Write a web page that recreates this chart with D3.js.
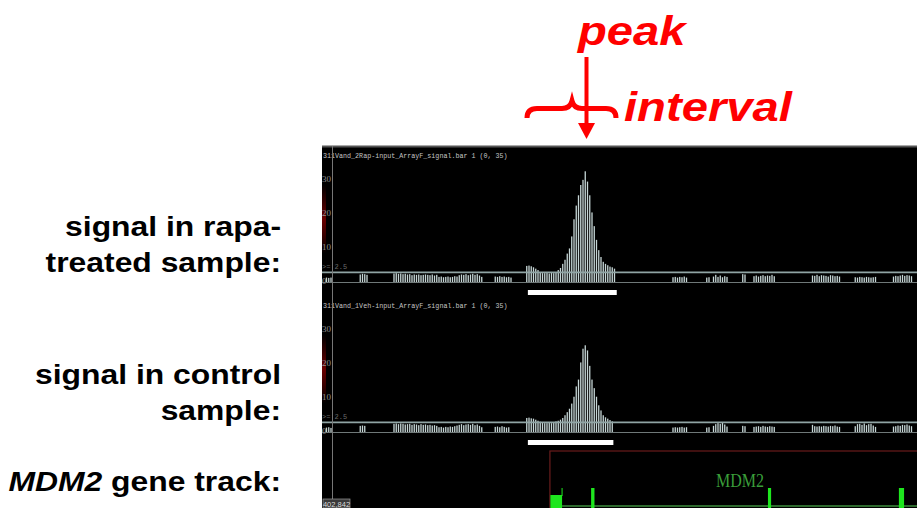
<!DOCTYPE html>
<html>
<head>
<meta charset="utf-8">
<script src="https://cdn.jsdelivr.net/npm/d3@7"></script>
<style>
  html, body { margin: 0; padding: 0; background: #fff; }
  svg { display: block; }
</style>
</head>
<body>
<svg id="chart" width="917" height="508"></svg>
<script>
// genome browser bins (~2.25px each across the black panel)
const binDomain = [0, 264];
const yDomain = [0, 35];
const yTicks = [10, 20, 30];
const threshold = 2.5;

const rapaTitle = '311Vand_2Rap-input_ArrayF_signal.bar 1 (0, 35)';
const vehTitle = '311Vand_1Veh-input_ArrayF_signal.bar 1 (0, 35)';

// peak region, first bin 91
const rapaPeakStart = 91;
const rapaPeak = [4.4, 4.5, 4.3, 4.0, 3.6, 3.2, 2.6, 2.3, 2.3, 2.4, 2.2, 2.4, 2.3, 2.6, 3.2, 3.8,
  5.0, 6.2, 8.0, 9.5, 13, 18, 22, 25, 28, 29.5, 32, 29, 25, 20, 16, 12, 9, 7, 5.6, 5.0, 4.6, 4.2, 4.0, 3.6];
const vehPeakStart = 91;
const vehPeak = [3.8, 3.9, 3.7, 3.6, 3.3, 3.0, 2.7, 2.4, 2.3, 2.3, 2.4, 2.3, 2.5, 2.8, 3.0, 3.3,
  3.8, 4.6, 5.5, 6.5, 8.0, 10, 13, 15, 20, 24, 25, 23.5, 19, 15, 12.5, 10, 7.5, 6, 4.6, 4.0, 3.6, 3.2, 2.8];

// low background clusters: [first bin, values]
const rapaBackground = [
  [2, [1.0, 0.9, 1.0]],
  [17, [1.9, 2.1, 2.0, 1.8]],
  [32, [2.2, 2.3, 2.1, 2.2, 2.0, 2.1, 1.9, 2.0, 1.7, 1.9, 1.8, 1.9, 1.7, 1.8, 1.9, 1.8, 1.7, 1.9, 1.6, 1.8,
        1.2, 1.3, 1.1, 1.2, 1.3, 1.1, 1.2, 1.4, 1.3, 1.7, 1.9, 1.8, 2.0, 1.7, 1.9, 2.1, 1.8, 2.0, 1.6, 1.2]],
  [77, [1.3, 1.2, 1.4, 1.2, 1.3, 1.1, 1.2, 1.0]],
  [156, [1.1, 1.2, 1.0, 1.2, 1.1, 1.3, 1.0]],
  [171, [1.0, 1.1, 0, 1.3, 1.8, 1.2, 1.6, 1.1, 1.4, 1.2]],
  [187, [2.0, 1.9]],
  [192, [1.4, 1.6, 1.3, 1.5, 1.7, 1.4, 1.6, 1.5, 1.8, 1.4]],
  [218, [1.6, 1.5, 1.8, 1.4, 1.7, 1.6, 1.5, 1.3, 1.7, 1.6, 1.4, 1.5, 1.3]],
  [237, [1.1, 1.0, 1.2, 1.1, 1.0, 1.2, 1.1, 1.0, 1.1, 1.2]],
  [254, [1.3, 1.5, 1.4, 1.6, 1.8, 1.5, 1.7, 1.6, 1.4]]
];
const vehBackground = [
  [2, [1.0, 1.1, 0.9]],
  [17, [1.5, 1.6, 1.5]],
  [32, [2.1, 2.2, 2.0, 2.2, 2.1, 1.9, 2.0, 2.1, 1.8, 2.0, 1.9, 1.7, 2.0, 1.8, 1.9, 1.7, 1.8, 1.6, 1.7, 1.5,
        1.1, 1.2, 1.0, 1.2, 1.1, 1.3, 1.2, 1.4, 1.6, 1.8, 2.0, 1.7, 1.9, 2.0, 1.8, 2.1, 1.7, 1.9, 1.5, 1.1]],
  [77, [1.2, 1.3, 1.1, 1.4, 1.2, 1.0, 1.1]],
  [156, [1.0, 1.1, 1.0, 1.1, 1.2, 1.0, 1.1]],
  [171, [1.0, 1.1, 0, 1.5, 2.0, 2.3, 2.1, 2.4, 1.9, 1.3]],
  [187, [1.5, 1.4]],
  [192, [1.2, 1.3, 1.4, 1.2, 1.5, 1.3, 1.2, 1.4, 1.3, 1.2]],
  [218, [1.8, 1.4, 1.3, 1.4, 1.3, 1.5, 1.4, 1.3, 1.5, 1.4, 1.6, 1.3, 1.2]],
  [237, [1.4, 2.0, 2.1, 1.8, 2.2, 1.7, 2.0, 2.1, 1.6, 1.2]],
  [254, [1.3, 1.4, 1.6, 1.5, 1.8, 1.7, 1.9, 1.6, 1.4]]
];

// called peak intervals (bin coords)
const rapaInterval = [91.5, 131];
const vehInterval = [91.5, 129.5];

// MDM2 gene model (bin coords)
const geneStart = 101.3;
const utrExon = [101.5, 106.7];
const exonStarts = [119.6, 198.2, 256.4];
const exonEnds = [121.1, 199.6, 258.7];
const geneLabel = 'MDM2';
const coordLabel = '402,842';

const svg = d3.select('#chart');
const stretch = 1.18; // slide text is stretched horizontally

// ---------- black browser panel ----------
const panel = { left: 322, top: 146, right: 917, bottom: 508 };
svg.append('rect')
  .attr('x', panel.left).attr('y', panel.top)
  .attr('width', panel.right - panel.left).attr('height', panel.bottom - panel.top)
  .attr('fill', '#000');
svg.append('line')
  .attr('x1', panel.left).attr('x2', panel.right)
  .attr('y1', panel.top + 0.5).attr('y2', panel.top + 0.5)
  .attr('stroke', '#555').attr('stroke-width', 2);

const defs = svg.append('defs');
const grad = defs.append('linearGradient').attr('id', 'redEdge').attr('x1', 0).attr('x2', 0).attr('y1', 0).attr('y2', 1);
grad.append('stop').attr('offset', '0%').attr('stop-color', '#000');
grad.append('stop').attr('offset', '50%').attr('stop-color', '#6a0000');
grad.append('stop').attr('offset', '100%').attr('stop-color', '#000');

const x = d3.scaleLinear().domain(binDomain).range([panel.left, panel.right - 1]);

const tracks = [
  { title: rapaTitle, peakStart: rapaPeakStart, peak: rapaPeak, bg: rapaBackground, interval: rapaInterval, zero: 281 },
  { title: vehTitle, peakStart: vehPeakStart, peak: vehPeak, bg: vehBackground, interval: vehInterval, zero: 431 }
];

tracks.forEach(t => {
  const y = d3.scaleLinear().domain(yDomain).range([t.zero, t.zero - 120]);
  const g = svg.append('g');

  // faint red edge at left
  g.append('rect')
    .attr('x', panel.left).attr('y', y(28)).attr('width', 4).attr('height', y(8) - y(28))
    .attr('fill', 'url(#redEdge)');

  g.append('text')
    .attr('x', panel.left + 1).attr('y', t.zero - 123)
    .attr('font-family', 'Liberation Mono, monospace').attr('font-size', 6.7)
    .attr('fill', '#c4c4c4')
    .text(t.title);

  const axis = g.append('g')
    .attr('transform', `translate(${panel.left},0)`)
    .call(d3.axisRight(y).tickValues(yTicks).tickSize(0).tickPadding(0));
  axis.select('.domain').remove();
  axis.selectAll('text')
    .attr('fill', '#909090').attr('font-family', 'Liberation Serif, serif').attr('font-size', 9);

  g.append('text')
    .attr('x', panel.left).attr('y', y(threshold) - 3)
    .attr('font-family', 'Liberation Mono, monospace').attr('font-size', 7)
    .attr('fill', '#6a6a6a')
    .text('>= 2.5');
  g.append('text')
    .attr('x', panel.left).attr('y', y(0) + 3)
    .attr('font-family', 'Liberation Serif, serif').attr('font-size', 8.5)
    .attr('fill', '#a0a0a0')
    .text('0');

  // bars
  const bars = [];
  t.bg.forEach(([start, vals]) => vals.forEach((v, i) => { if (v > 0) bars.push({ bin: start + i, v }); }));
  t.peak.forEach((v, i) => bars.push({ bin: t.peakStart + i, v }));

  g.selectAll('rect.bar')
    .data(bars)
    .enter().append('rect')
    .attr('class', 'bar')
    .attr('x', d => x(d.bin) - 0.65)
    .attr('width', 1.3)
    .attr('y', d => y(d.v))
    .attr('height', d => y(0) - y(d.v) + 1)
    .attr('fill', '#c6d6d6');

  // threshold and baseline
  g.append('line')
    .attr('x1', panel.left).attr('x2', panel.right)
    .attr('y1', y(threshold)).attr('y2', y(threshold))
    .attr('stroke', '#90a4a4').attr('stroke-width', 1.8);
  g.append('line')
    .attr('x1', panel.left).attr('x2', panel.right)
    .attr('y1', y(0) + 1.5).attr('y2', y(0) + 1.5)
    .attr('stroke', '#6f7878').attr('stroke-width', 1);

  // peak interval bar
  g.append('rect')
    .attr('x', x(t.interval[0])).attr('width', x(t.interval[1]) - x(t.interval[0]))
    .attr('y', t.zero + 9).attr('height', 5)
    .attr('fill', '#fff');
});

// ---------- gene track ----------
const gTop = 451, gBottom = 508;
svg.append('rect')
  .attr('x', x(geneStart)).attr('y', gTop)
  .attr('width', panel.right + 5 - x(geneStart)).attr('height', 80)
  .attr('fill', 'none').attr('stroke', '#6a1c1c').attr('stroke-width', 1.2);

svg.append('line')
  .attr('x1', x(utrExon[1])).attr('x2', panel.right)
  .attr('y1', 506).attr('y2', 506)
  .attr('stroke', '#2e6a2e').attr('stroke-width', 2);

svg.append('rect')
  .attr('x', x(utrExon[0])).attr('width', x(utrExon[1]) - x(utrExon[0]))
  .attr('y', 495).attr('height', gBottom - 495)
  .attr('fill', '#1ee61e');
svg.append('line')
  .attr('x1', x(utrExon[1])).attr('x2', x(utrExon[1]))
  .attr('y1', 488).attr('y2', 496)
  .attr('stroke', '#1ee61e').attr('stroke-width', 1);

svg.selectAll('rect.exon')
  .data(exonStarts.map((s, i) => [s, exonEnds[i]]))
  .enter().append('rect')
  .attr('class', 'exon')
  .attr('x', d => x(d[0])).attr('width', d => x(d[1]) - x(d[0]))
  .attr('y', 488).attr('height', gBottom - 488)
  .attr('fill', '#1ee61e');

svg.append('text')
  .attr('x', 740).attr('y', 487)
  .attr('text-anchor', 'middle')
  .attr('font-family', 'Liberation Serif, serif').attr('font-size', 18)
  .attr('textLength', 48).attr('lengthAdjust', 'spacingAndGlyphs')
  .attr('fill', '#3a9e3a')
  .text(geneLabel);

// vertical guide line
svg.append('line')
  .attr('x1', 332.5).attr('x2', 332.5)
  .attr('y1', panel.top).attr('y2', panel.bottom)
  .attr('stroke', '#777').attr('stroke-width', 1);

svg.append('rect')
  .attr('x', 323).attr('y', 499).attr('width', 27).attr('height', 9)
  .attr('fill', '#3a3a3a').attr('stroke', '#999').attr('stroke-width', 0.7);
svg.append('text')
  .attr('x', 336.5).attr('y', 506.5).attr('text-anchor', 'middle')
  .attr('font-family', 'Liberation Sans, sans-serif').attr('font-size', 7.5)
  .attr('fill', '#ddd')
  .text(coordLabel);

// ---------- left labels ----------
const labels = [
  { parts: [['signal in rapa-', 'normal']], y: 236 },
  { parts: [['treated sample:', 'normal']], y: 272 },
  { parts: [['signal in control', 'normal']], y: 384 },
  { parts: [['sample:', 'normal']], y: 420 },
  { parts: [['MDM2', 'italic'], [' gene track:', 'normal']], y: 491 }
];
labels.forEach(l => {
  const txt = svg.append('text')
    .attr('transform', `translate(281,${l.y}) scale(${stretch},1)`)
    .attr('text-anchor', 'end')
    .attr('font-family', 'Liberation Sans, Arial, sans-serif')
    .attr('font-weight', 'bold').attr('font-size', 27)
    .attr('fill', '#000');
  l.parts.forEach(p => txt.append('tspan').attr('font-style', p[1]).text(p[0]));
});

// ---------- peak / interval annotation ----------
const red = '#ff0000';
svg.append('text')
  .attr('transform', `translate(578,45) scale(${stretch},1)`)
  .attr('font-family', 'Liberation Sans, Arial, sans-serif')
  .attr('font-weight', 'bold').attr('font-style', 'italic').attr('font-size', 40)
  .attr('fill', red)
  .text('peak');
svg.append('text')
  .attr('transform', `translate(624,121) scale(${stretch},1)`)
  .attr('font-family', 'Liberation Sans, Arial, sans-serif')
  .attr('font-weight', 'bold').attr('font-style', 'italic').attr('font-size', 40)
  .attr('fill', red)
  .text('interval');

// brace over the interval
svg.append('path')
  .attr('d', 'M527,118 Q527,108.5 537,108.5 L562,108.5 Q570,108.5 572,101 Q574,108.5 582,108.5 L606,108.5 Q616,108.5 616,118')
  .attr('fill', 'none').attr('stroke', red).attr('stroke-width', 5).attr('stroke-linecap', 'butt');

// arrow down to the peak
svg.append('line')
  .attr('x1', 586.5).attr('x2', 586.5).attr('y1', 57).attr('y2', 124)
  .attr('stroke', red).attr('stroke-width', 4);
svg.append('path')
  .attr('d', 'M578,123 L595,123 L586.5,139 Z')
  .attr('fill', red);
</script>
</body>
</html>
